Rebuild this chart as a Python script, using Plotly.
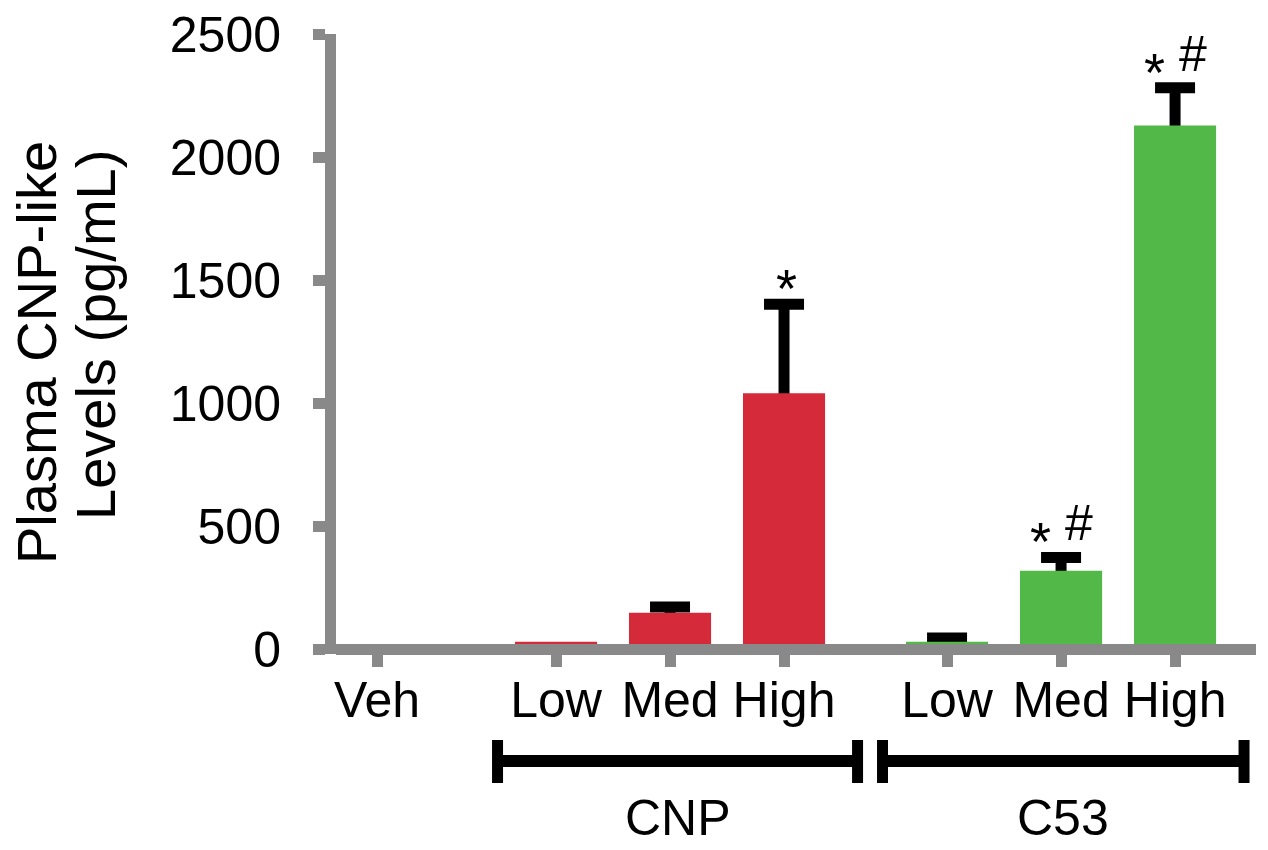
import plotly.graph_objects as go

# ---- data ----
groups = ["Veh", "CNP", "CNP", "CNP", "C53", "C53", "C53"]
doses = ["Veh", "Low", "Med", "High", "Low", "Med", "High"]
means = [0, 30, 147, 1040, 30, 318, 2128]          # pg/mL
sems = [0, 0, 24, 361, 15, 54, 153]                 # upper error
marks = ["", "", "", "*", "", "*#", "*#"]           # significance marks
y_ticks = [0, 500, 1000, 1500, 2000, 2500]
group_names = ["CNP", "C53"]
y_title_lines = ["Plasma CNP-like", "Levels (pg/mL)"]

# ---- layout / style (not data) ----
xpos = [0, 1.57, 2.57, 3.57, 5.0, 6.0, 7.0]
bracket_span = {"CNP": (1.057, 4.215), "C53": (4.434, 7.605)}
colors = {"Veh": "#000000", "CNP": "#D52A3A", "C53": "#52B848"}
AXIS_GRAY = "#898989"
FONT = "Liberation Sans, Arial, sans-serif"
BAR_W = 0.72
L, R, T, B = 336, 12, 34, 196
PW, PH = 1268 - L - R, 850 - T - B
Y_MIN, Y_MAX = -20.3, 2500
# x axis line placed on the y = 0 level
x_axis_pos = (0 - Y_MIN) / (Y_MAX - Y_MIN)

fig = go.Figure()

# error bars (drawn first so the bars hide their lower half)
idx_err = [i for i, e in enumerate(sems) if e > 0]
fig.add_trace(go.Bar(
    x=[xpos[i] for i in idx_err],
    y=[means[i] for i in idx_err],
    width=BAR_W,
    marker=dict(color="rgba(0,0,0,0)", line=dict(width=0)),
    error_y=dict(type="data", array=[sems[i] for i in idx_err], symmetric=True,
                 color="black", thickness=11, width=20),
    showlegend=False, hoverinfo="skip",
))

for g in ["Veh", "CNP", "C53"]:
    ids = [i for i, gg in enumerate(groups) if gg == g]
    fig.add_trace(go.Bar(
        x=[xpos[i] for i in ids],
        y=[means[i] for i in ids],
        width=BAR_W,
        marker=dict(color=colors[g], line=dict(width=0)),
        name=g, showlegend=False,
    ))

annotations = []
for i, m in enumerate(marks):
    if not m:
        continue
    top = means[i] + sems[i]
    both = "#" in m
    annotations.append(dict(x=xpos[i], y=top, xref="x", yref="y", text="*",
                            showarrow=False, yanchor="bottom", xanchor="center",
                            xshift=-21 if both else 2, yshift=-16,
                            font=dict(size=54, color="black", family=FONT)))
    if both:
        annotations.append(dict(x=xpos[i], y=top, xref="x", yref="y", text="#",
                                showarrow=False, yanchor="bottom", xanchor="center",
                                xshift=18, yshift=4,
                                font=dict(size=50, color="black", family=FONT)))


def py(px):
    return (850 - B - px) / PH


def pxx(px):
    return (px - L) / PW


shapes = []
for g in group_names:
    a, b = bracket_span[g]
    shapes.append(dict(type="line", xref="x", yref="paper", x0=a, x1=b, y0=py(761), y1=py(761),
                       line=dict(color="black", width=12)))
    for xe in (a, b):
        shapes.append(dict(type="line", xref="x", yref="paper", x0=xe, x1=xe,
                           y0=py(740), y1=py(783), line=dict(color="black", width=11)))
    annotations.append(dict(x=(a + b) / 2, y=py(818), xref="x", yref="paper", text=g,
                            showarrow=False, xanchor="center", yanchor="middle",
                            font=dict(size=50, color="black", family=FONT)))

# y axis title (two rotated lines)
for txt, cx, cy in zip(y_title_lines, (36, 95), (353, 335)):
    annotations.append(dict(x=pxx(cx), y=py(cy), xref="paper", yref="paper",
                            text=txt, textangle=-90,
                            showarrow=False, xanchor="center", yanchor="middle",
                            font=dict(size=56, color="black", family=FONT)))

fig.update_layout(
    width=1268, height=850,
    margin=dict(l=L, r=R, t=T, b=B, autoexpand=False),
    paper_bgcolor="white", plot_bgcolor="white",
    barmode="overlay",
    font=dict(family=FONT, color="black"),
    xaxis=dict(range=[-0.36, 7.71], tickvals=xpos, ticktext=doses,
               anchor="free", position=x_axis_pos,
               showline=True, linewidth=11, linecolor=AXIS_GRAY, layer="above traces",
               showgrid=False, zeroline=False,
               ticks="outside", ticklen=12, tickwidth=11, tickcolor=AXIS_GRAY,
               tickfont=dict(size=50, color="black", family=FONT),
               ticklabelstandoff=-10, fixedrange=True),
    yaxis=dict(range=[Y_MIN, Y_MAX], tickvals=y_ticks,
               showline=True, linewidth=11, linecolor=AXIS_GRAY,
               showgrid=False, zeroline=False,
               ticks="outside", ticklen=12, tickwidth=11, tickcolor=AXIS_GRAY,
               tickfont=dict(size=50, color="black", family=FONT),
               ticklabelstandoff=22, fixedrange=True),
    shapes=shapes,
    annotations=annotations,
)

fig.write_html("out.html")
